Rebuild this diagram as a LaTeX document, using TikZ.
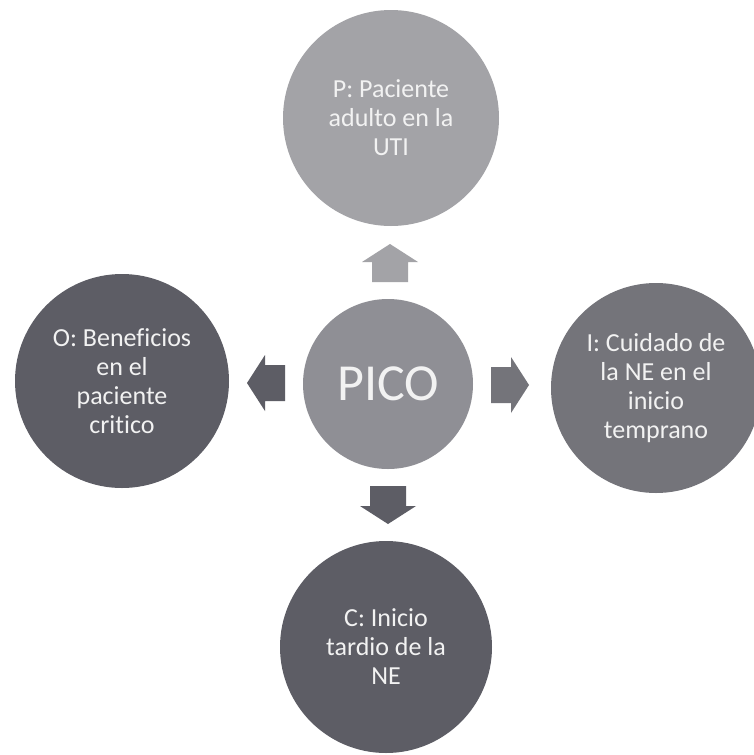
\documentclass[tikz,border=0pt]{standalone}
\usepackage{fontspec}
\setmainfont{Carlito}[Ligatures=NoCommon]
\definecolor{grisP}{HTML}{A3A3A7}
\definecolor{grisM}{HTML}{8F8F95}
\definecolor{grisI}{HTML}{74747A}
\definecolor{grisO}{HTML}{5D5D65}
\definecolor{textoC}{HTML}{F2F2F2}
\begin{document}
\begin{tikzpicture}[x=1pt, y=-1pt, line join=round,
	circ/.style={circle, inner sep=0pt, text=textoC, align=center, font=\fontsize{26}{29}\selectfont},
	flecha/.style={fill=#1}]
	\def\L{38}	\def\hb{20}	\def\hw{28}	\def\sw{18}
	\newcommand{\pcarrow}[4]{\fill[flecha=#4, shift={(#1,#2)}, rotate=#3] (0,-\sw) -- (\hb,-\sw) -- (\hb,-\hw) -- (\L,0) -- (\hb,\hw) -- (\hb,\sw) -- (0,\sw) -- cycle;}
	\useasboundingbox (0,0) rectangle (754,755);
	\fill[white] (0,0) rectangle (754,755);
	% circulos
	\node[circ, fill=grisM, minimum size=170, font=\fontsize{52}{52}\selectfont] (pico) at (388,384) {PICO};
	\node[circ, fill=grisP, minimum size=216] (P) at (391,118) {P: Paciente\\adulto en la\\UTI};
	\node[circ, fill=grisI, minimum size=210] (I) at (656,388) {I: Cuidado de\\la NE en el\\inicio\\temprano};
	\node[circ, fill=grisO, minimum size=212] (C) at (386,647) {C: Inicio\\tardio de la\\NE};
	\node[circ, fill=grisO, minimum size=214] (O) at (122,381) {O: Beneficios\\en el\\paciente\\critico};
	% flechas
	\pcarrow{390}{282}{90}{grisP}
	\pcarrow{491}{385}{0}{grisI}
	\pcarrow{388}{486}{-90}{grisO}
	\pcarrow{285}{383}{180}{grisO}
\end{tikzpicture}
\end{document}
